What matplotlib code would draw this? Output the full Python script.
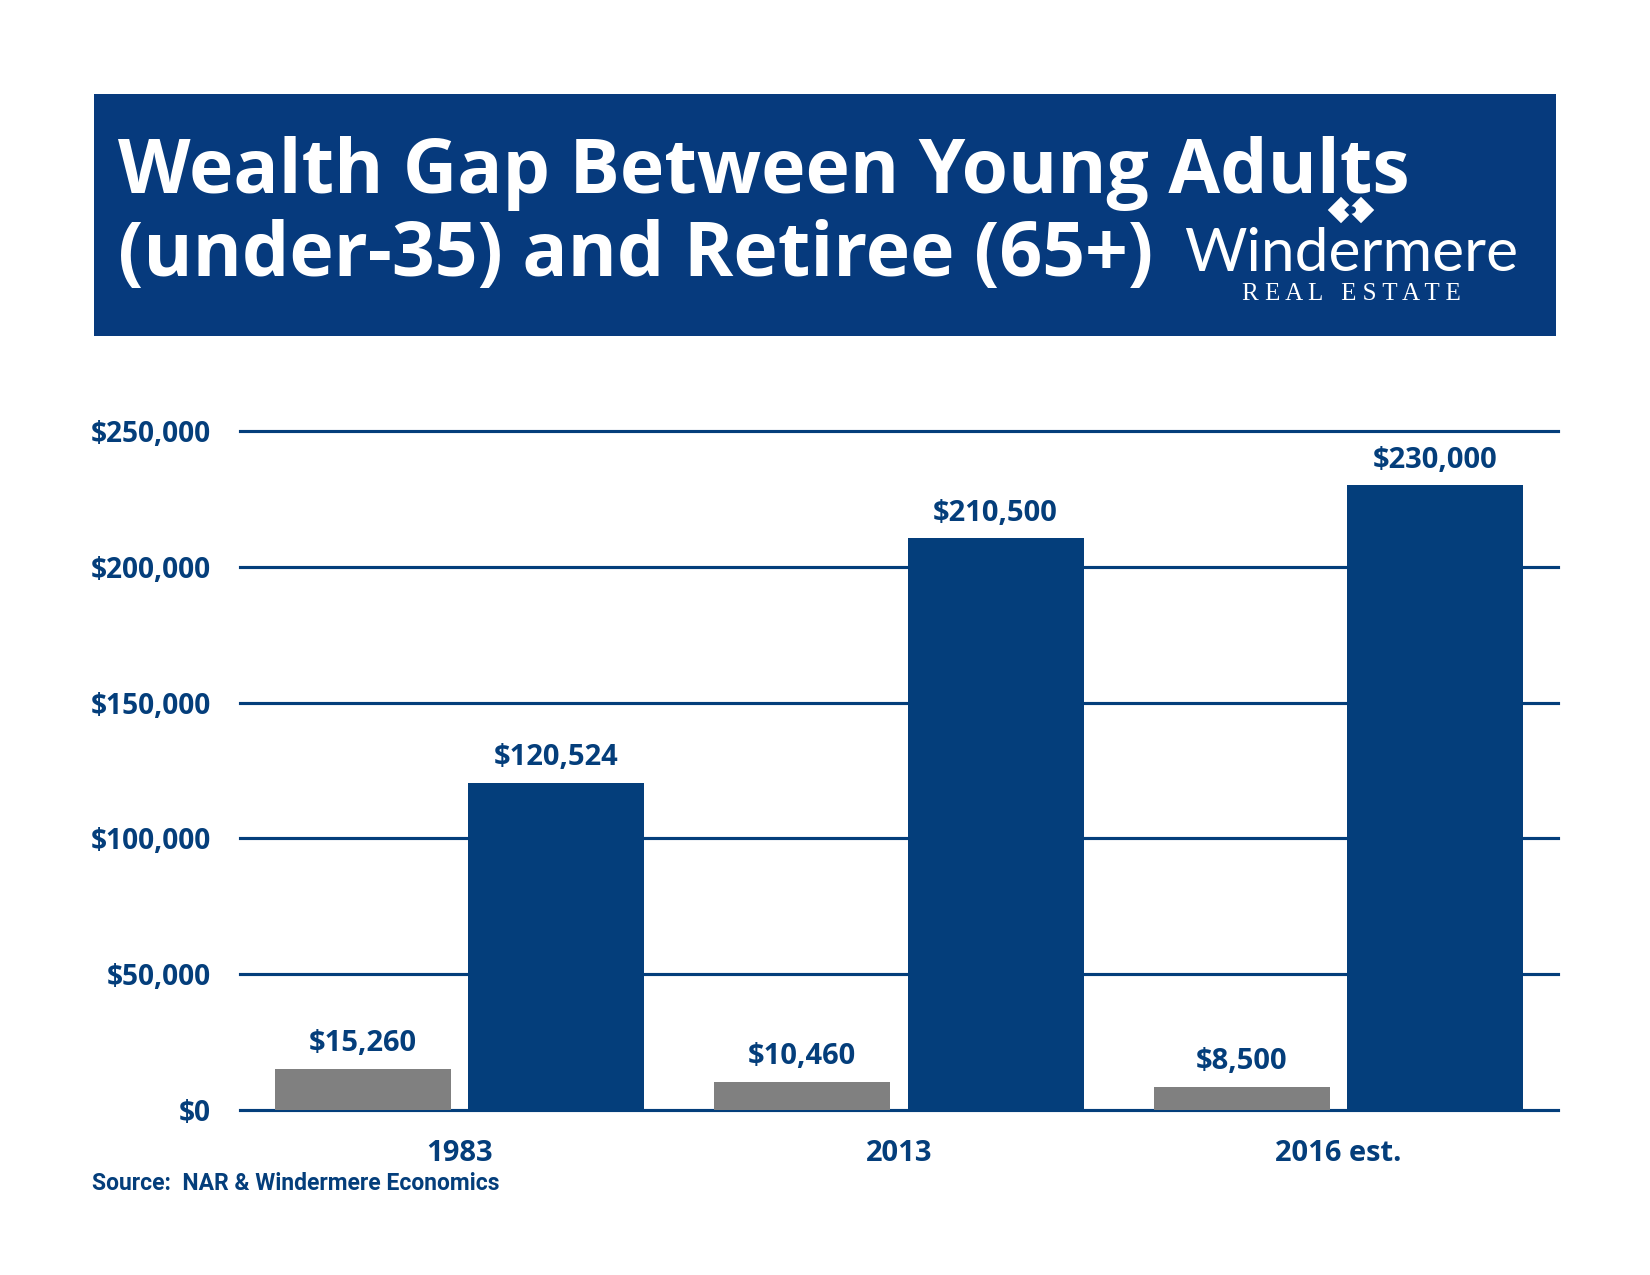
import matplotlib
matplotlib.use("Agg")
import matplotlib.pyplot as plt
from matplotlib.patches import Rectangle, Polygon, Circle

# Data
categories = ['1983', '2013', '2016 est.']
young = [15260, 10460, 8500]        # under-35 (grey)
retiree = [120524, 210500, 230000]  # 65+ (blue)
yticks = [0, 50000, 100000, 150000, 200000, 250000]

navy = '#043e7b'
banner = '#063a7d'
grey = '#808080'
font = 'Open Sans'

fig = plt.figure(figsize=(11, 8.5), dpi=150)
W, H = 1650, 1275

# Header banner
fig.patches.append(Rectangle((94 / W, 1 - 336 / H), 1462 / W, 242 / H,
                             transform=fig.transFigure, facecolor=banner,
                             edgecolor='none', zorder=0))
fig.text(118 / W, 1 - 193 / H, 'Wealth Gap Between Young Adults',
         family=font, weight='bold', size=36, color='white', va='baseline')
fig.text(118 / W, 1 - 276 / H, '(under-35) and Retiree (65+)',
         family=font, weight='bold', size=36, color='white', va='baseline')

# Logo
fig.text(1351 / W, 1 - 271 / H, 'Windermere', family='Lato',
         size=29, color='white', ha='center', va='baseline')
fig.text(1351 / W, 1 - 300 / H, 'R E A L   E S T A T E', family='Liberation Serif',
         size=12, color='white', ha='center', va='baseline')
cx, cy, r = 1351, 210, 15
for dx in (-10, 10):
    pts = [((cx + dx) / W, 1 - (cy - r) / H), ((cx + dx + r) / W, 1 - cy / H),
           ((cx + dx) / W, 1 - (cy + r) / H), ((cx + dx - r) / W, 1 - cy / H)]
    fig.patches.append(Polygon(pts, closed=True, transform=fig.transFigure,
                               facecolor='white', edgecolor=banner, lw=1.2, zorder=2))
fig.patches.append(Circle((cx / W, 1 - cy / H), 5 / W, transform=fig.transFigure,
                          facecolor=banner, edgecolor='none', zorder=3))

# Chart
ax = fig.add_axes([240 / W, 1 - 1110 / H, 1318 / W, 679 / H])
x = range(len(categories))
w = 0.4
xg = [i - 0.22 for i in x]
xb = [i + 0.22 for i in x]
for y in yticks:
    ax.axhline(y, color=navy, lw=1.5, zorder=0, clip_on=False)
ax.bar(xg, young, width=w, color=grey, zorder=2)
ax.bar(xb, retiree, width=w, color=navy, zorder=2)

for xs, vals in ((xg, young), (xb, retiree)):
    for xi, v in zip(xs, vals):
        ax.annotate(f'${v:,}', (xi, v), xytext=(0, 5), textcoords='offset points',
                    ha='center', va='bottom', family=font, weight='bold',
                    size=14, color=navy)

ax.set_xlim(-0.5, 2.5)
ax.set_ylim(0, 250000)
ax.set_yticks(yticks)
ax.set_yticklabels([f'${v:,}' for v in yticks], family=font, weight='bold',
                   size=13.5, color=navy)
ax.set_xticks(list(x))
ax.set_xticklabels(categories, family=font, weight='bold', size=14, color=navy)
ax.tick_params(axis='both', length=0)
ax.tick_params(axis='y', pad=14)
ax.tick_params(axis='x', pad=14)
for s in ax.spines.values():
    s.set_visible(False)

fig.text(92 / W, 1 - 1190 / H, 'Source:  NAR & Windermere Economics',
         family='Roboto', weight='bold', size=11, color=navy, va='baseline')

fig.savefig('out.png', dpi=150, facecolor='white')
